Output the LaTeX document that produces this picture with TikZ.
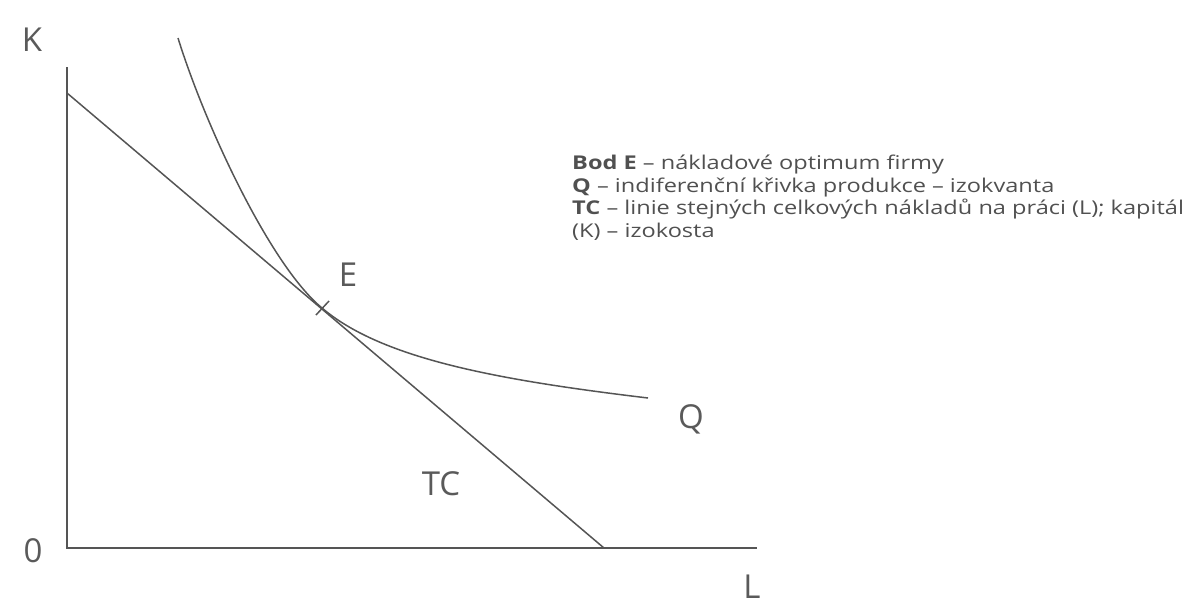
\documentclass[tikz,border=0pt]{standalone}
\usepackage{fontspec}
\setmainfont{Open Sans}
\newfontfamily\lightfont{Open Sans}
\newfontfamily\legendfont[FakeStretch=1.24]{Open Sans}
\definecolor{ink}{HTML}{555555}
\definecolor{txt}{HTML}{505050}
\definecolor{labtxt}{HTML}{5A5A5A}
\begin{document}
\begin{tikzpicture}[x=1pt,y=-1pt,
  axis/.style={draw=ink,line width=1.6pt},
  curve/.style={draw=ink,line width=1.5pt},
  lab/.style={text=labtxt,font=\lightfont\fontsize{33}{33}\selectfont,inner sep=0pt},
  legend/.style={text=txt,font=\legendfont\fontsize{19}{23}\selectfont,anchor=base west,inner sep=0pt}]
\useasboundingbox (0,0) rectangle (1186,606);
% coordinates
\coordinate (ktop) at (67,67);
\coordinate (O) at (67,548);
\coordinate (lend) at (757,548);
\coordinate (tcK) at (67,93);
\coordinate (tcL) at (604,548);
\coordinate (qstart) at (178,38);
\coordinate (E) at (322,308);
\coordinate (qend) at (648,398);
\coordinate (tickA) at (316,315);
\coordinate (tickB) at (329,301);
% axes
\draw[axis] (ktop) -- (O) -- (lend);
% isocost TC
\draw[curve] (tcK) -- (tcL);
% isoquant Q
\draw[curve] (qstart) .. controls (205,125) and (270,265) .. (E)
                      .. controls (382,359) and (498,380) .. (qend);
% tick at E
\draw[curve] (tickA) -- (tickB);
% labels
\node[lab] (K) at (32,40) {K};
\node[lab] (zero) at (33,551) {0};
\node[lab] (L) at (752,587) {L};
\node[lab] (Elab) at (348,275) {E};
\node[lab] (Qlab) at (691,419) {Q};
\node[lab] (TClab) at (441,484) {TC};
% legend
\node[legend] (leg1) at (572,169) {\textbf{Bod E} – nákladové optimum firmy};
\node[legend] (leg2) at (572,192) {\textbf{Q} – indiferenční křivka produkce – izokvanta};
\node[legend] (leg3) at (572,214) {\textbf{TC} – linie stejných celkových nákladů na práci (L); kapitál};
\node[legend] (leg4) at (572,237) {(K) – izokosta};
\end{tikzpicture}
\end{document}
